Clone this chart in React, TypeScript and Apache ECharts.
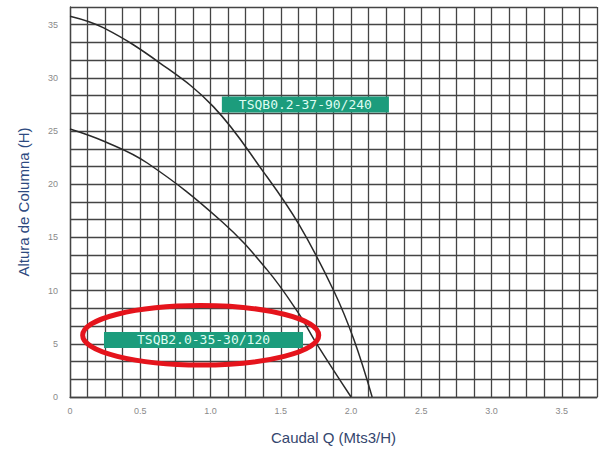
import React, { useEffect, useRef } from "react";
import * as echarts from "echarts";

// Caudal Q (Mts3/H) vs Altura de Columna (H)
const upperQ = [0, 0.24, 0.64, 1.02, 1.38, 1.63, 1.88, 2.02, 2.15];
const upperH = [35.8, 34.7, 31.4, 27.3, 21.1, 16.2, 9.9, 5.4, 0];
const lowerQ = [0, 0.25, 0.55, 1.08, 1.4, 1.62, 1.76, 2.0];
const lowerH = [25.2, 24.0, 22.0, 16.5, 12.0, 8.0, 4.9, 0];

const upperName = "TSQB0.2-37-90/240";
const lowerName = "TSQB2.0-35-30/120";
const upperLabelAt = [1.675, 27.5];
const lowerLabelAt = [0.95, 5.36];
const ellipseCenter = [0.93, 5.8];
const ellipseRadii = [0.84, 2.8];

const xMax = 3.75;
const xStep = 0.125;
const xLabelStep = 0.5;
const yMax = 110 / 3;
const yStep = 5 / 3;
const yLabelStep = 5;

const isMult = (v: number, s: number) => Math.abs(v / s - Math.round(v / s)) < 1e-6;

export default function App() {
  const ref = useRef<HTMLDivElement>(null);
  useEffect(() => {
    document.body.style.margin = "0";
    const chart = echarts.init(ref.current!, null, { renderer: "svg" });
    const gridColor = "#444444";
    const mkLabel = (name: string, at: number[], padH: number) => ({
      symbol: "rect",
      symbolSize: 1,
      itemStyle: { color: "rgba(0,0,0,0)" },
      data: [
        {
          coord: at,
          label: {
            show: true,
            position: "inside",
            formatter: name,
            fontFamily: "DejaVu Sans Mono",
            fontSize: 13,
            lineHeight: 12,
            color: "#dffcf2",
            backgroundColor: "#1c9c7c",
            padding: [2, padH],
          },
        },
      ],
    });
    chart.setOption({
      animation: false,
      backgroundColor: "#ffffff",
      grid: { left: 70, right: 5, top: 7, bottom: 54, show: false },
      xAxis: {
        type: "value",
        min: 0,
        max: xMax,
        interval: xStep,
        name: "Caudal Q (Mts3/H)",
        nameLocation: "middle",
        nameGap: 33,
        nameTextStyle: { color: "#34466e", fontSize: 15, fontFamily: "Liberation Sans" },
        axisLine: { show: true, lineStyle: { color: gridColor, width: 1.3 } },
        axisTick: { show: false },
        axisLabel: {
          color: "#8a8a8a",
          fontSize: 9,
          margin: 9,
          formatter: (v: number) => (isMult(v, xLabelStep) ? (v === 0 ? "0" : v.toFixed(1)) : ""),
        },
        splitLine: { show: true, lineStyle: { color: gridColor, width: 1.3 } },
      },
      yAxis: {
        type: "value",
        min: 0,
        max: yMax,
        interval: yStep,
        name: "Altura de Columna (H)",
        nameLocation: "middle",
        nameGap: 39,
        nameTextStyle: { color: "#2e4a80", fontSize: 15, fontFamily: "Liberation Sans" },
        axisLine: { show: true, lineStyle: { color: gridColor, width: 1.3 } },
        axisTick: { show: false },
        axisLabel: {
          color: "#8a8a8a",
          fontSize: 9,
          margin: 12,
          formatter: (v: number) => (isMult(v, yLabelStep) ? String(Math.round(v)) : ""),
        },
        splitLine: { show: true, lineStyle: { color: gridColor, width: 1.3 } },
      },
      series: [
        {
          type: "line",
          smooth: 0.4,
          symbol: "none",
          lineStyle: { color: "#2a2a2a", width: 1.5 },
          data: upperQ.map((q, i) => [q, upperH[i]]),
          markPoint: mkLabel(upperName, upperLabelAt, 17),
          z: 5,
        },
        {
          type: "line",
          smooth: 0.4,
          symbol: "none",
          lineStyle: { color: "#2a2a2a", width: 1.5 },
          data: lowerQ.map((q, i) => [q, lowerH[i]]),
          markPoint: mkLabel(lowerName, lowerLabelAt, 33),
          z: 5,
        },
      ],
    });
    const c = chart.convertToPixel({ gridIndex: 0 }, ellipseCenter) as number[];
    const e = chart.convertToPixel(
      { gridIndex: 0 },
      [ellipseCenter[0] + ellipseRadii[0], ellipseCenter[1] + ellipseRadii[1]]
    ) as number[];
    chart.setOption({
      graphic: [
        {
          type: "ellipse",
          z: 100,
          shape: { cx: c[0], cy: c[1], rx: Math.abs(e[0] - c[0]), ry: Math.abs(e[1] - c[1]) },
          style: { fill: "none", stroke: "#e5141c", lineWidth: 5 },
        },
      ],
    });
    return () => chart.dispose();
  }, []);
  return <div ref={ref} style={{ width: 602, height: 451 }} />;
}
